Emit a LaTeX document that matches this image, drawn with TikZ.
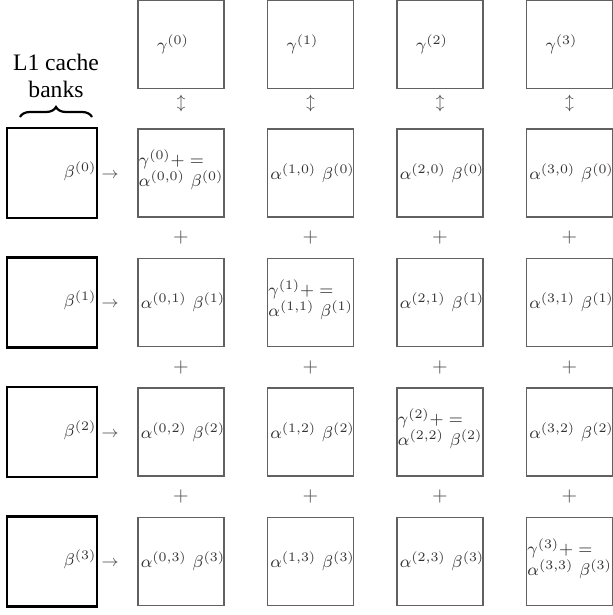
\RequirePackage{fix-cm}
\documentclass[tikz,border=0pt]{standalone}
\usepackage{fontspec}
\usetikzlibrary{decorations.pathreplacing}
\newfontfamily\lfont{Liberation Serif}
\DeclareMathSizes{8.5}{8.5}{6.5}{5}
\begin{document}
\begin{tikzpicture}[x=0.5pt,y=-0.5pt,
  cbox/.style={draw=black!62, line width=0.65pt, minimum width=43pt, minimum height=44pt, inner sep=0pt},
  lbox/.style={draw=black, line width=1.3pt, minimum width=45pt, minimum height=45pt, inner sep=0pt},
  lab/.style={font=\fontsize{8.5}{8.6}\selectfont, text=black!80, inner sep=0pt},
  sym/.style={text=black!70, inner sep=0pt},
  smallsym/.style={font=\footnotesize, text=black!70, inner sep=0pt}]
\useasboundingbox (0,0) rectangle (613,615);
% column x-positions and row y-positions
\def\colx{{181,310.5,440,569.5}}
\def\rowy{{173,302.5,432,561.5}}
% gamma boxes
\foreach \c in {0,1,2,3}{
  \pgfmathsetmacro{\xx}{\colx[\c]}
  \node[cbox] (g\c) at (\xx,44.5) {};
  \node[lab, xshift=-4pt] (gl\c) at (g\c.center) {$\gamma^{(\c)}$};
  \node[smallsym] (ud\c) at (\xx,104) {$\updownarrow$};
}
% rows
\foreach \r in {0,1,2,3}{
  \pgfmathsetmacro{\yy}{\rowy[\r]}
  \node[lbox] (l\r) at (52,\yy) {};
  \node[lab, anchor=east, xshift=-0.8pt, yshift=1pt] (ll\r) at (l\r.east) {$\beta^{(\r)}$};
  \node[smallsym] (ar\r) at (110,\yy+2) {$\rightarrow$};
  \foreach \c in {0,1,2,3}{
    \pgfmathsetmacro{\xx}{\colx[\c]}
    \node[cbox] (b\c\r) at (\xx,\yy) {};
    \ifnum\c=\r
      \node[lab, anchor=west, align=left, xshift=0.6pt, yshift=1.5pt] (bl\c\r) at (b\c\r.west)
        {$\gamma^{(\c)} +=$\\$\alpha^{(\c,\r)}\hskip3pt\beta^{(\r)}$};
    \else
      \node[lab, xshift=1pt] (bl\c\r) at (b\c\r.center) {$\alpha^{(\c,\r)}\hskip3pt\beta^{(\r)}$};
    \fi
  }
}
% plus signs between rows
\foreach \r/\py in {0/237.75,1/367.25,2/496.75}{
  \foreach \c in {0,1,2,3}{
    \pgfmathsetmacro{\xx}{\colx[\c]}
    \node[sym] (p\c\r) at (\xx,\py) {$+$};
  }
}
% L1 cache banks label and brace
\node[align=center, inner sep=0pt, font=\lfont\fontsize{11.8}{13.5}\selectfont] (title) at (56,76) {L1 cache\\banks};
\coordinate (brL) at (20,117);
\coordinate (brR) at (92,117);
\draw[decorate, decoration={brace, amplitude=5pt}, line width=1.1pt] (brL) -- (brR);
\end{tikzpicture}
\end{document}
